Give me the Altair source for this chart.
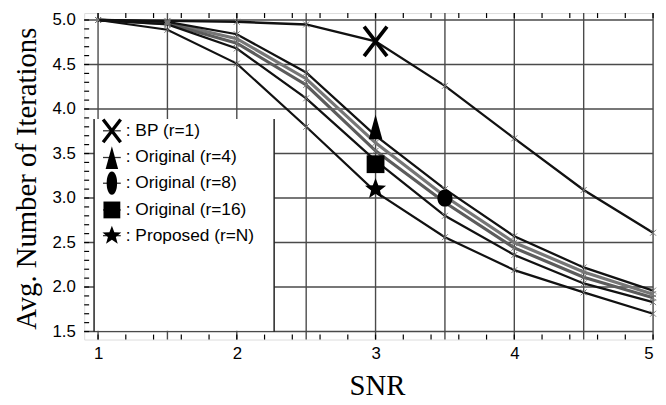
import math
import altair as alt
import pandas as pd

# ---------------- data ----------------
snr = [1, 1.5, 2, 2.5, 3, 3.5, 4, 4.5, 5]
bp_r1 = [5.0, 4.99, 4.98, 4.95, 4.76, 4.26, 3.67, 3.09, 2.61]
orig_r4 = [5.0, 4.98, 4.84, 4.41, 3.70, 3.10, 2.57, 2.22, 1.96]
orig_r8 = [5.0, 4.97, 4.79, 4.34, 3.62, 3.02, 2.50, 2.17, 1.92]
orig_r16 = [5.0, 4.96, 4.74, 4.27, 3.53, 2.95, 2.44, 2.11, 1.88]
unlabeled = [5.0, 4.95, 4.68, 4.12, 3.42, 2.80, 2.36, 2.04, 1.83]
proposed = [5.0, 4.89, 4.51, 3.80, 3.07, 2.56, 2.19, 1.94, 1.70]

series_names = ["Original (r=8)", "Original (r=16)", "Original (r=4)", "unlabeled",
                "BP (r=1)", "Proposed (r=N)"]
series_values = [orig_r8, orig_r16, orig_r4, unlabeled, bp_r1, proposed]
series_colors = ["#767676", "#5c5c5c", "#111111", "#111111", "#111111", "#111111"]
series_widths = [3.2, 3.2, 2.3, 2.3, 2.4, 2.2]

# big identifying markers (x, y)
marker_names = ["BP (r=1)", "Original (r=4)", "Original (r=8)", "Original (r=16)", "Proposed (r=N)"]
marker_x = [3, 3, 3.5, 3, 3]
marker_y = [4.76, 3.80, 3.00, 3.38, 3.10]

legend_labels = [": BP (r=1)", ": Original (r=4)", ": Original (r=8)",
                 ": Original (r=16)", ": Proposed (r=N)"]

grid_x = [1, 1.5, 2, 2.5, 3, 3.5, 4, 4.5, 5]
grid_y = [1.5, 2.0, 2.5, 3.0, 3.5, 4.0, 4.5, 5.0]
x_labels = [1, 2, 3, 4, 5]
y_labels = [1.5, 2.0, 2.5, 3.0, 3.5, 4.0, 4.5, 5.0]
x_minor = [round(1 + 0.2 * i, 2) for i in range(21)]
y_minor = [round(1.5 + 0.1 * i, 2) for i in range(36)]

# ---------------- build ----------------
rows = []
for name, vals in zip(series_names, series_values):
    for s, v in zip(snr, vals):
        rows.append({"series": name, "snr": s, "iter": v})
df = pd.DataFrame(rows)

W, H = 575, 330
XS = alt.Scale(domain=[0.9, 5.0], nice=False, zero=False)
YS = alt.Scale(domain=[1.41, 5.078], nice=False, zero=False)

xax = alt.Axis(values=x_labels, format="d", title="SNR", grid=False, domain=False,
               ticks=False, labelFont="Liberation Sans", labelFontSize=17,
               labelColor="black", labelPadding=6, titleFont="Liberation Serif",
               titleFontSize=29, titleFontWeight="normal", titleColor="black",
               titleY=47, titleX=296, titleBaseline="middle")
yax = alt.Axis(values=y_labels, format=".1f", title="Avg. Number of Iterations",
               grid=False, domain=False, ticks=False, labelFont="Liberation Sans",
               labelFontSize=17, labelColor="black", labelPadding=9,
               titleFont="Liberation Serif", titleFontSize=29, titleFontWeight="normal",
               titleColor="black", titleX=-58, titleY=167, titleAlign="center",
               titleBaseline="middle", titleAngle=-90)


def X(field):
    return alt.X(field, type="quantitative", scale=XS, axis=xax)


def Y(field):
    return alt.Y(field, type="quantitative", scale=YS, axis=yax)


layers = []
layers.append(alt.Chart(pd.DataFrame({"gx": grid_x})).mark_rule(
    color="#4a4a4a", strokeWidth=1.4).encode(x=X("gx")))
layers.append(alt.Chart(pd.DataFrame({"gy": grid_y})).mark_rule(
    color="#4a4a4a", strokeWidth=1.4).encode(y=Y("gy")))

# inward ticks
xm = pd.DataFrame({"tx": x_minor})
ym = pd.DataFrame({"ty": y_minor})
layers.append(alt.Chart(xm).mark_rule(color="black", strokeWidth=1.2).encode(
    x=X("tx"), y=alt.value(H), y2=alt.value(H - 5)))
layers.append(alt.Chart(xm).mark_rule(color="black", strokeWidth=1.2).encode(
    x=X("tx"), y=alt.value(0), y2=alt.value(5)))
layers.append(alt.Chart(ym).mark_rule(color="black", strokeWidth=1.2).encode(
    y=Y("ty"), x=alt.value(0), x2=alt.value(5)))

one = pd.DataFrame({"a": [0]})
# legend box
layers.append(alt.Chart(one).mark_rect(fill="white").encode(
    x=alt.value(10), x2=alt.value(192), y=alt.value(107), y2=alt.value(321)))
layers.append(alt.Chart(one).mark_rule(color="#222", strokeWidth=1.5).encode(
    x=alt.value(10), y=alt.value(107), y2=alt.value(322)))
layers.append(alt.Chart(one).mark_rule(color="#222", strokeWidth=1.5).encode(
    x=alt.value(192), y=alt.value(107), y2=alt.value(322)))

# data lines
for name, col, w in zip(series_names, series_colors, series_widths):
    sub = df[df.series == name]
    layers.append(alt.Chart(sub).mark_line(color=col, strokeWidth=w).encode(
        x=X("snr"), y=Y("iter")))

XP = "M-1,-1L1,1M1,-1L-1,1"
layers.append(alt.Chart(df).mark_point(shape=XP, size=36, filled=False, stroke="#777",
                                       strokeWidth=1, opacity=1).encode(
    x=X("snr"), y=Y("iter")))

# shapes
BIGX = "M-0.77,-1L0.77,1M0.77,-1L-0.77,1"
TRI = "M0,-1L0.55,1L-0.55,1Z"


def ellipse(a):
    k = a / 0.75
    return f"M0,-1C{k:.3f},-1 {k:.3f},1 0,1C{-k:.3f},1 {-k:.3f},-1 0,-1Z"


pts = []
for i in range(10):
    r = 1 if i % 2 == 0 else 0.42
    ang = -math.pi / 2 + i * math.pi / 5
    pts.append(f"{r * math.cos(ang):.3f},{r * math.sin(ang):.3f}")
STAR = "M" + "L".join(pts) + "Z"

mk = pd.DataFrame({"name": marker_names, "mx": marker_x, "my": marker_y})
big_styles = [
    dict(shape=BIGX, size=900, filled=False, stroke="black", strokeWidth=3.8),
    dict(shape=TRI, size=625, filled=True, color="black"),
    dict(shape=ellipse(0.88), size=300, filled=True, color="black"),
    dict(shape="square", size=324, filled=True, color="black"),
    dict(shape=STAR, size=500, filled=True, color="black"),
]
for i, st in enumerate(big_styles):
    layers.append(alt.Chart(mk.iloc[[i]]).mark_point(opacity=1, **st).encode(
        x=X("mx"), y=Y("my")))

# legend contents
leg_y = [119, 146, 172, 199, 225]
leg_styles = [
    dict(shape=BIGX, size=529, filled=False, stroke="black", strokeWidth=3.4),
    dict(shape=TRI, size=529, filled=True, color="black"),
    dict(shape=ellipse(0.45), size=552, filled=True, color="black"),
    dict(shape="square", size=289, filled=True, color="black"),
    dict(shape=STAR, size=400, filled=True, color="black"),
]
for i, lab in enumerate(legend_labels):
    d = pd.DataFrame({"label": [lab]})
    layers.append(alt.Chart(d).mark_rule(color="#333", strokeWidth=1.3).encode(
        x=alt.value(19), x2=alt.value(37), y=alt.value(leg_y[i])))
    layers.append(alt.Chart(d).mark_point(opacity=1, **leg_styles[i]).encode(
        x=alt.value(28), y=alt.value(leg_y[i])))
    layers.append(alt.Chart(d).mark_text(align="left", baseline="middle",
                                         font="Liberation Sans", fontSize=17.5,
                                         color="black").encode(
        x=alt.value(42), y=alt.value(leg_y[i]), text="label:N"))

chart = alt.layer(*layers).properties(
    width=W, height=H, autosize="none",
    padding={"left": 77, "top": 3, "right": 5, "bottom": 60},
).configure_view(stroke="black", strokeWidth=1.5).configure(background="white")

chart.save("out.html", embed_options={"renderer": "svg", "actions": False})
